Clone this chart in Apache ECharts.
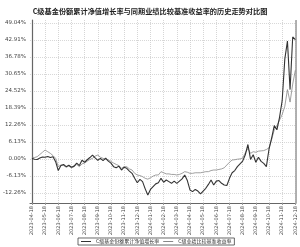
<!DOCTYPE html>
<html>
<head>
<meta charset="utf-8">
<script src="https://cdn.jsdelivr.net/npm/echarts@6/dist/echarts.min.js"></script>
<style>
  html, body { margin: 0; padding: 0; background: #fff; }
  #chart { width: 300px; height: 247px; }
</style>
</head>
<body>
<div id="chart"></div>
<script>
// 月度刻度标签
const xLabels = [
  '2023-04-18', '2023-05-18', '2023-06-18', '2023-07-18', '2023-08-18', '2023-09-18',
  '2023-10-18', '2023-11-18', '2023-12-18', '2024-01-18', '2024-02-18', '2024-03-18',
  '2024-04-18', '2024-05-18', '2024-06-18', '2024-07-18', '2024-08-18', '2024-09-18',
  '2024-10-18', '2024-11-18', '2024-12-18'
];
const yTicks = [-12.26, -6.13, 0, 6.13, 12.26, 18.39, 24.52, 30.65, 36.78, 42.91, 49.04];
const STEP = 5; // 每月 5 个点

// C级基金份额累计净值增长率 (%)
const fundValues = [
  0.2, -0.1, -0.2, 0.3, 0.7, 0.6, 0.9, 0.5, 0.8, -1.0,
  -4.2, -2.4, -2.0, -2.8, -2.3, -3.0, -2.6, -1.5, -2.4, -0.5,
  -1.2, -0.3, 0.5, 1.4, 0.4, -0.5, 0.2, -0.6, 0.3, -0.8,
  -1.5, -2.8, -3.2, -2.6, -4.0, -3.0, -3.4, -4.4, -5.2, -7.0,
  -8.6, -7.4, -8.2, -10.8, -13.0, -11.0, -10.0, -9.0, -8.6, -7.0,
  -8.4, -7.6, -8.2, -8.8, -8.0, -8.8, -8.0, -7.2, -5.8, -7.8,
  -11.2, -11.8, -11.0, -11.6, -12.6, -11.6, -10.6, -9.2, -7.6, -9.4,
  -8.0, -7.8, -8.8, -9.4, -9.6, -7.0, -5.0, -4.2, -2.8, -1.8,
  -0.8, 1.5, 5.2, -0.2, 1.5, -1.2, 0.6, -0.9, -1.6, -2.8,
  3.5, 7.5, 12.0, 10.5, 15.0, 21.0, 36.0, 42.5, 25.0, 44.0,
  43.0
];
// C级业绩比较基准收益率 (%)
const benchValues = [
  0.6, 0.5, 0.8, 1.6, 2.4, 3.2, 2.6, 2.0, 1.2, 0.2,
  -2.8, -2.2, -2.4, -3.0, -2.6, -3.2, -2.8, -2.0, -2.8, -1.8,
  -1.5, -0.8, -0.2, 0.2, 1.0, 1.4, 0.6, 0.2, -0.2, -0.4,
  -0.9, -1.5, -2.0, -2.4, -3.4, -2.8, -2.8, -3.6, -4.0, -5.2,
  -5.8, -6.0, -6.4, -7.0, -7.3, -6.8, -6.2, -5.8, -5.8, -4.6,
  -5.0, -5.4, -5.4, -5.6, -5.6, -5.8, -5.6, -5.2, -4.6, -4.8,
  -5.2, -5.2, -5.0, -5.0, -5.0, -4.8, -4.6, -4.6, -4.2, -4.0,
  -4.0, -3.8, -3.6, -3.2, -2.2, -1.2, -0.4, -0.3, -0.1, 0.0,
  0.3, 2.2, 3.8, 2.0, 2.6, 2.4, 2.8, 2.9, 3.0, 3.4,
  4.0, 7.0, 10.5, 12.0, 14.0, 16.0, 19.0, 25.0, 20.5, 27.0,
  32.0
];

const toPairs = arr => arr.map((v, i) => [i / STEP, v]);
const monthTicks = xLabels.map((_, i) => i);

const chart = echarts.init(document.getElementById('chart'));
const option = {
  animation: false,
  title: {
    text: 'C级基金份额累计净值增长率与同期业绩比较基准收益率的历史走势对比图',
    left: 'center',
    top: 3,
    textStyle: { fontSize: 7.2, fontWeight: 'bold', color: '#222', fontFamily: 'Noto Sans CJK SC' }
  },
  legend: {
    bottom: 2,
    left: 78,
    itemWidth: 10,
    itemHeight: 1,
    itemGap: 4,
    padding: [1, 3],
    borderColor: '#444',
    borderWidth: 0.8,
    icon: 'rect',
    textStyle: { fontSize: 5, color: '#333', fontFamily: 'Noto Sans CJK SC' },
    data: ['C级基金份额累计净值增长率', 'C级业绩比较基准收益率']
  },
  grid: { left: 28, right: 4, top: 20, bottom: 44, show: false },
  xAxis: {
    type: 'value',
    min: -0.15,
    max: 20.05,
    axisLine: { show: true, onZero: false, lineStyle: { color: '#666', width: 1 } },
    axisTick: { show: true, length: 2, customValues: monthTicks, lineStyle: { color: '#999' } },
    splitLine: { show: true, lineStyle: { color: '#bbb', type: [1, 1], width: 0.6 } },
    axisLabel: {
      customValues: monthTicks,
      rotate: 90,
      fontSize: 5,
      color: '#444',
      margin: 3,
      fontFamily: 'DejaVu Sans',
      formatter: v => xLabels[Math.round(v)]
    }
  },
  yAxis: {
    type: 'value',
    min: -15.9,
    max: 50.1,
    axisLine: { show: true, lineStyle: { color: '#666', width: 1.2 } },
    axisTick: { show: false, customValues: yTicks },
    splitLine: { show: true, lineStyle: { color: '#bbb', type: [1, 1], width: 0.6 } },
    axisLabel: {
      customValues: yTicks,
      fontSize: 5.5,
      color: '#444',
      margin: 4,
      fontFamily: 'DejaVu Sans',
      formatter: v => v.toFixed(2) + '%'
    }
  },
  graphic: [{
    type: 'line',
    shape: { x1: 296, y1: 20, x2: 296, y2: 203 },
    style: { stroke: '#777', lineWidth: 1.2 }
  }],
  series: [
    {
      name: 'C级基金份额累计净值增长率',
      type: 'line',
      data: toPairs(fundValues),
      showSymbol: false,
      z: 3,
      lineStyle: { color: '#333', width: 1.1 },
      itemStyle: { color: '#333' }
    },
    {
      name: 'C级业绩比较基准收益率',
      type: 'line',
      data: toPairs(benchValues),
      showSymbol: false,
      z: 2,
      lineStyle: { color: '#888', width: 0.8 },
      itemStyle: { color: '#888' }
    }
  ]
};
chart.setOption(option);
</script>
</body>
</html>
